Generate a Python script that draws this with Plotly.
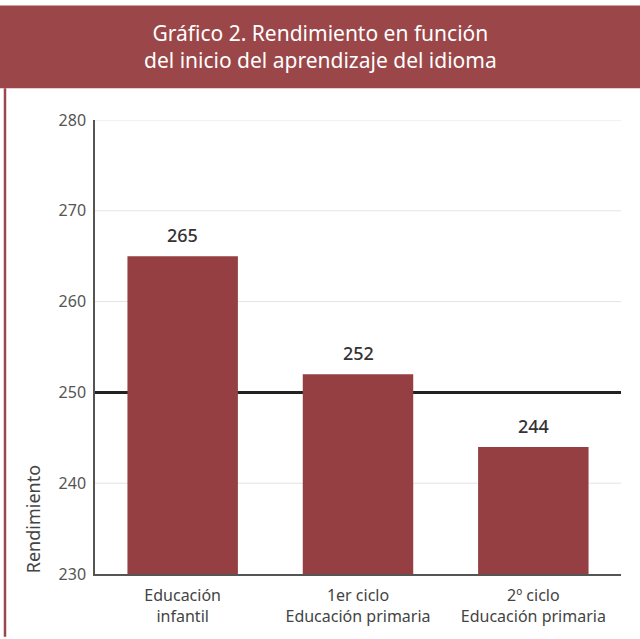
import plotly.graph_objects as go

categories = ["Educación<br>infantil", "1er ciclo<br>Educación primaria", "2º ciclo<br>Educación primaria"]
values = [265, 252, 244]
reference_value = 250
y_ticks = [230, 240, 250, 260, 270, 280]

BAR = "#953f42"
BAND = "#9b4648"
FONT = "Noto Sans, Open Sans, sans-serif"

W, H = 640, 639
L, R, T, B = 95, 19, 120, 63
pw, ph = W - L - R, H - T - B

def px(x):
    return (x - L) / pw

def py(y):
    return (H - B - y) / ph

fig = go.Figure()
fig.add_trace(go.Bar(
    x=categories, y=values, width=0.63,
    marker=dict(color=BAR, line=dict(width=0)),
    hoverinfo="skip",
))

for c, v in zip(categories, values):
    fig.add_annotation(x=c, y=v, text=str(v), showarrow=False,
                       yanchor="bottom", yshift=7,
                       font=dict(size=18, color="#333333", family=FONT, weight=500))

# gridlines (except at the reference value, which gets the heavy line)
for t in y_ticks:
    if t not in (y_ticks[0], reference_value):
        fig.add_shape(type="line", xref="paper", yref="y", x0=0, x1=1, y0=t, y1=t,
                      line=dict(color="#e3e3e3", width=1), layer="below")

fig.add_shape(type="line", xref="paper", yref="y", x0=0, x1=1,
              y0=reference_value, y1=reference_value,
              line=dict(color="#222222", width=3), layer="below")

# title band
fig.add_shape(type="rect", xref="paper", yref="paper",
              x0=px(0), x1=px(W), y0=py(88), y1=py(5),
              fillcolor=BAND, line=dict(width=0), layer="below")
# left border
fig.add_shape(type="line", xref="paper", yref="paper",
              x0=px(5), x1=px(5), y0=py(H), y1=py(88),
              line=dict(color=BAND, width=2.5))

fig.add_annotation(text="Gráfico 2. Rendimiento en función<br>del inicio del aprendizaje del idioma",
                   xref="paper", yref="paper", x=px(320), y=py(46),
                   xanchor="center", yanchor="middle", showarrow=False,
                   font=dict(size=21, color="white", family=FONT), align="center")
fig.add_annotation(text="Rendimiento", xref="paper", yref="paper",
                   x=px(33), y=py(521), textangle=-90,
                   xanchor="center", yanchor="middle", showarrow=False,
                   font=dict(size=18, color="#444444", family=FONT))

fig.update_layout(
    width=W, height=H, margin=dict(l=L, r=R, t=T, b=B, pad=0),
    paper_bgcolor="white", plot_bgcolor="white", showlegend=False,
    bargap=0.37,
    font=dict(family=FONT, color="#444444"),
    xaxis=dict(showgrid=False, showline=True, linecolor="#555555", linewidth=1.5,
               ticks="", tickfont=dict(size=16, color="#444444"),
               ticklabelstandoff=6, fixedrange=True),
    yaxis=dict(range=[230, 280], tickvals=y_ticks, showgrid=False, showline=True,
               linecolor="#555555", linewidth=1.5, ticks="",
               tickfont=dict(size=16, color="#555555"), zeroline=False,
               ticklabelstandoff=4, fixedrange=True),
)

fig.write_html("out.html", config={"displayModeBar": False},
               post_script="document.body.style.margin='0';")
